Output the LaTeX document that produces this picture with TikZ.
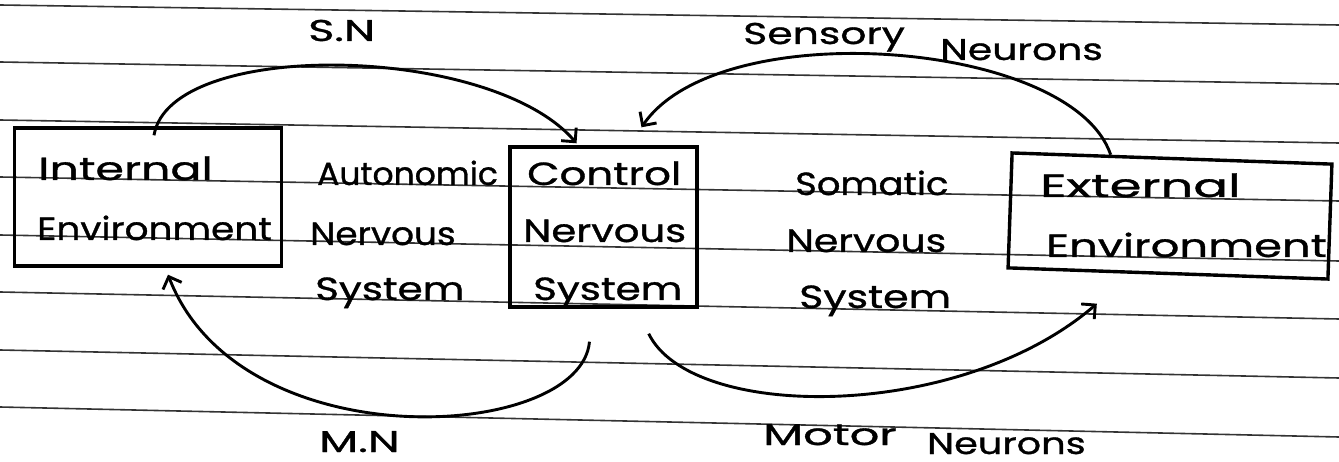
\documentclass[tikz,border=0pt]{standalone}
\usepackage{fontspec}
\newfontfamily\handfont[FakeStretch=1.12,FakeBold=1]{Poppins}
\usetikzlibrary{arrows.meta,calc}
\newcommand\sx[2]{\scalebox{#1}[1]{#2}}
\begin{document}
\begin{tikzpicture}[x=1pt,y=-1pt,
  ruled/.style={black!80, line width=1.6pt},
  boxnode/.style={draw, line width=3.4pt, rectangle, inner sep=0pt},
  hw/.style={font=\handfont\fontsize{32}{36}\selectfont, inner sep=0pt, anchor=base west},
  lbl/.style={font=\handfont\fontsize{30}{34}\selectfont, inner sep=0pt, anchor=base west},
  conn/.style={line width=2.9pt, -{Straight Barb[length=10pt,width=20pt]}},
]
\useasboundingbox (0,0) rectangle (1339,462);
\fill[white] (0,0) rectangle (1339,462);
% ruled paper lines
\foreach \a/\b in {5/25, 62/84, 120/143, 177/201, 235/261, 292/319, 350/378, 407/437}
  \draw[ruled] (0,\a) -- (1339,\b);

% boxes
\node[boxnode, minimum width=267pt, minimum height=138pt] (ib) at (148,197) {};
\node[boxnode, minimum width=187pt, minimum height=160pt] (cb) at (603.5,227) {};
\node[boxnode, minimum width=320pt, minimum height=115pt, rotate=-2] (eb) at (1170,216) {};

% texts
\node[hw] (t1) at (38,180) {\sx{1.28}{Internal}};
\node[hw] (t2) at (37,240) {\sx{1.045}{Environment}};
\node[hw] (t3) at (317,185) {\sx{0.92}{Autonomic}};
\node[hw] (t4) at (310,245) {\sx{1.0}{Nervous}};
\node[hw] (t5) at (315,300) {\sx{1.13}{System}};
\node[hw] (t6) at (527,185) {\sx{1.17}{Control}};
\node[hw] (t7) at (523,242) {\sx{1.12}{Nervous}};
\node[hw] (t8) at (533,300) {\sx{1.13}{System}};
\node[hw] (t9) at (795,195) {\sx{1.03}{Somatic}};
\node[hw] (t10) at (786,252) {\sx{1.1}{Nervous}};
\node[hw] (t11) at (799,308) {\sx{1.15}{System}};
\node[hw] (t12) at (1040,197) {\sx{1.43}{External}};
\node[hw] (t13) at (1046,257) {\sx{1.25}{Environment}};

\node[lbl] (sn) at (308,41) {\sx{1.33}{S.N}};
\node[lbl] (sens) at (743,44) {\sx{1.22}{Sensory}};
\node[lbl] (neur1) at (940,60) {\sx{1.17}{Neurons}};
\node[lbl] (mn) at (319,452) {\sx{1.35}{M.N}};
\node[lbl] (motor) at (763,445) {\sx{1.38}{Motor}};
\node[lbl] (neur2) at (927,454) {\sx{1.14}{Neurons}};

% connector end points
\coordinate (snstart) at ([xshift=6pt,yshift=-9pt]ib.north);
\coordinate (snend) at ([xshift=-27pt,yshift=2pt]cb.north);
\coordinate (sensstart) at ($(eb.north west)!0.31!(eb.north east)$);
\coordinate (sensend) at ([xshift=38pt,yshift=18pt]cb.north);
\coordinate (mnstart) at ([xshift=-14pt,yshift=-33pt]cb.south);
\coordinate (mnend) at ([xshift=20pt,yshift=-7pt]ib.south);
\coordinate (motstart) at ([xshift=-50pt,yshift=-25pt]cb.south east);
\coordinate (motend) at ($(eb.south west)!0.28!(eb.south east)+(0,31)$);

% connectors
\draw[conn] (snstart) .. controls +(16,-97) and +(-86,-100) .. (snend);
\draw[conn] (sensstart) .. controls +(-39,-115) and +(78,-114) .. (sensend);
\draw[conn] (mnstart) .. controls +(-9,100) and +(72,187) .. (mnend);
\draw[conn] (motstart) .. controls +(43,88) and +(-137,118) .. (motend);
\end{tikzpicture}
\end{document}
